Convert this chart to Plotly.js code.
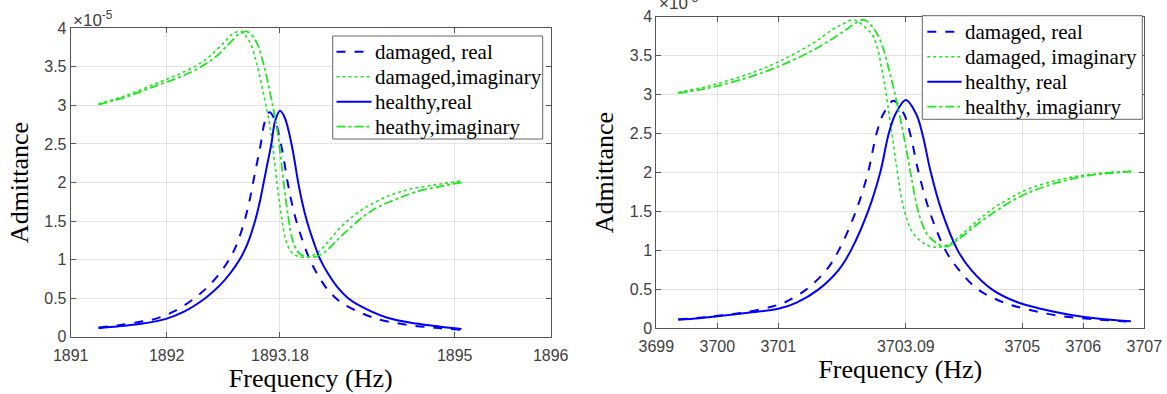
<!DOCTYPE html>
<html>
<head>
<meta charset="utf-8">
<script src="https://cdn.plot.ly/plotly-3.0.1.min.js"></script>
<style>html,body{margin:0;padding:0;background:#fff;}#chart{width:1167px;height:394px;}</style>
</head>
<body>
<div id="chart"></div>
<script>
// ---- Data (admittance values in units of 1e-5) ----
// Left panel (≈1893 Hz)
const fLeftHealthyReal = [1891.29,1891.5,1891.75,1892.0,1892.18,1892.38,1892.47,1892.56,1892.66,1892.76,1892.84,1892.92,1892.97,1893.01,1893.05,1893.09,1893.13,1893.18,1893.23,1893.30,1893.37,1893.41,1893.46,1893.53,1893.60,1893.68,1893.78,1893.89,1894.0,1894.29,1894.6,1894.85,1895.07];
const yLeftHealthyReal = [0.11,0.135,0.17,0.235,0.325,0.48,0.57,0.675,0.82,1.00,1.20,1.50,1.75,2.00,2.25,2.50,2.80,2.93,2.84,2.50,2.00,1.75,1.50,1.23,1.00,0.82,0.64,0.50,0.41,0.25,0.17,0.13,0.10];
const fLeftDamagedReal = [1891.29,1891.5,1891.75,1891.89,1892.07,1892.27,1892.36,1892.45,1892.55,1892.65,1892.73,1892.81,1892.86,1892.90,1892.94,1892.98,1893.02,1893.07,1893.12,1893.19,1893.26,1893.30,1893.35,1893.42,1893.49,1893.57,1893.67,1893.78,1893.89,1894.18,1894.5,1894.8,1895.07];
const yLeftDamagedReal = [0.12,0.15,0.20,0.235,0.325,0.48,0.57,0.675,0.82,1.00,1.20,1.50,1.75,2.00,2.25,2.50,2.78,2.91,2.83,2.50,2.00,1.75,1.50,1.23,1.00,0.81,0.62,0.48,0.39,0.235,0.155,0.115,0.09];
const fLeftHealthyImag = [1891.29,1891.6,1891.9,1892.1,1892.3,1892.5,1892.65,1892.75,1892.83,1892.90,1892.95,1893.00,1893.05,1893.10,1893.15,1893.19,1893.23,1893.27,1893.31,1893.36,1893.42,1893.50,1893.58,1893.66,1893.75,1893.9,1894.05,1894.2,1894.4,1894.6,1894.85,1895.07];
const yLeftHealthyImag = [3.01,3.12,3.26,3.35,3.46,3.62,3.80,3.92,3.96,3.89,3.78,3.58,3.32,3.02,2.70,2.30,1.88,1.52,1.26,1.11,1.05,1.03,1.05,1.11,1.22,1.40,1.56,1.68,1.79,1.88,1.95,2.00];
const fLeftDamagedImag = [1891.29,1891.6,1891.9,1892.1,1892.3,1892.45,1892.6,1892.69,1892.77,1892.83,1892.88,1892.93,1892.98,1893.03,1893.08,1893.12,1893.16,1893.20,1893.24,1893.29,1893.35,1893.43,1893.51,1893.59,1893.68,1893.82,1893.97,1894.12,1894.32,1894.52,1894.8,1895.07];
const yLeftDamagedImag = [3.02,3.14,3.29,3.39,3.51,3.64,3.82,3.93,3.96,3.89,3.78,3.58,3.32,3.02,2.70,2.30,1.88,1.52,1.26,1.11,1.05,1.03,1.05,1.11,1.23,1.43,1.59,1.71,1.83,1.91,1.97,2.02];

// Right panel (≈3703 Hz)
const fRightHealthyReal = [3699.36,3699.7,3700.0,3700.5,3701.0,3701.3,3701.66,3701.99,3702.19,3702.47,3702.67,3702.81,3702.92,3703.09,3703.26,3703.36,3703.50,3703.68,3703.94,3704.16,3704.50,3704.9,3705.3,3705.8,3706.3,3706.78];
const yRightHealthyReal = [0.11,0.13,0.155,0.20,0.25,0.33,0.50,0.75,1.00,1.50,2.00,2.50,2.75,2.93,2.75,2.50,2.00,1.50,1.00,0.75,0.50,0.34,0.25,0.17,0.12,0.09];
const fRightDamagedReal = [3699.36,3699.7,3700.0,3700.5,3700.9,3701.1,3701.46,3701.79,3701.99,3702.27,3702.47,3702.61,3702.72,3702.89,3703.06,3703.16,3703.30,3703.48,3703.74,3703.96,3704.27,3704.7,3705.1,3705.6,3706.2,3706.78];
const yRightDamagedReal = [0.115,0.135,0.16,0.21,0.28,0.33,0.50,0.75,1.00,1.50,2.00,2.50,2.75,2.92,2.75,2.50,2.00,1.50,1.00,0.75,0.50,0.33,0.24,0.16,0.115,0.085];
const fRightHealthyImag = [3699.36,3699.7,3700.0,3700.5,3701.0,3701.57,3702.07,3702.25,3702.41,3702.55,3702.67,3702.83,3702.97,3703.08,3703.19,3703.30,3703.43,3703.60,3703.76,3703.98,3704.25,3704.52,3704.8,3705.07,3705.62,3706.16,3706.78];
const yRightHealthyImag = [3.02,3.06,3.11,3.22,3.36,3.57,3.81,3.91,3.96,3.86,3.70,3.27,2.80,2.37,1.90,1.48,1.22,1.09,1.05,1.16,1.33,1.48,1.62,1.73,1.88,1.97,2.01];
const fRightDamagedImag = [3699.36,3699.7,3700.0,3700.5,3701.0,3701.57,3701.9,3702.07,3702.23,3702.40,3702.56,3702.72,3702.83,3702.94,3703.05,3703.21,3703.43,3703.62,3703.82,3704.0,3704.25,3704.52,3704.8,3705.07,3705.62,3706.16,3706.78];
const yRightDamagedImag = [3.03,3.08,3.14,3.26,3.42,3.66,3.84,3.91,3.96,3.88,3.74,3.23,2.67,2.07,1.56,1.22,1.07,1.04,1.09,1.20,1.37,1.54,1.67,1.78,1.91,1.98,2.02];

// Tick labels
const leftXTicks = [1891, 1892, 1893.18, 1895, 1896];
const leftXTickText = ['1891', '1892', '1893.18', '1895', '1896'];
const rightXTicks = [3699, 3700, 3701, 3703.09, 3705, 3706, 3707];
const rightXTickText = ['3699', '3700', '3701', '3703.09', '3705', '3706', '3707'];
const yTicks = [0, 0.5, 1, 1.5, 2, 2.5, 3, 3.5, 4];
const yTickText = ['0', '0.5', '1', '1.5', '2', '2.5', '3', '3.5', '4'];

const leftNames = ['damaged, real', 'damaged,imaginary', 'healthy,real', 'heathy,imaginary'];
const rightNames = ['damaged, real', 'damaged, imaginary', 'healthy, real', 'healthy, imagianry'];

// ---- Styles ----
const W = 1167, H = 394;
const BLUE = '#0000ff', GREEN = '#1ee81e';
const SERIF = 'Liberation Serif';
const SANS = 'Liberation Sans';
const styles = [
  {color: BLUE, width: 2, dash: 'dash'},
  {color: GREEN, width: 1.6, dash: 'dot'},
  {color: BLUE, width: 2, dash: 'solid'},
  {color: GREEN, width: 1.8, dash: 'dashdot'}
];

function tr(x, y, name, i, xa, ya) {
  return {x: x, y: y, name: name, type: 'scatter', mode: 'lines', showlegend: false,
    line: Object.assign({shape: 'spline', smoothing: 1.0}, styles[i]),
    xaxis: xa, yaxis: ya};
}

const data = [
  tr(fLeftDamagedReal, yLeftDamagedReal, leftNames[0], 0, 'x', 'y'),
  tr(fLeftDamagedImag, yLeftDamagedImag, leftNames[1], 1, 'x', 'y'),
  tr(fLeftHealthyReal, yLeftHealthyReal, leftNames[2], 2, 'x', 'y'),
  tr(fLeftHealthyImag, yLeftHealthyImag, leftNames[3], 3, 'x', 'y'),
  tr(fRightDamagedReal, yRightDamagedReal, rightNames[0], 0, 'x2', 'y2'),
  tr(fRightDamagedImag, yRightDamagedImag, rightNames[1], 1, 'x2', 'y2'),
  tr(fRightHealthyReal, yRightHealthyReal, rightNames[2], 2, 'x2', 'y2'),
  tr(fRightHealthyImag, yRightHealthyImag, rightNames[3], 3, 'x2', 'y2')
];

function axisCommon() {
  return {
    showline: true, mirror: 'ticks', linecolor: '#555', linewidth: 1,
    ticks: 'inside', ticklen: 5, tickcolor: '#555', tickwidth: 1,
    showgrid: true, gridcolor: '#e4e4e4', gridwidth: 1, zeroline: false,
    tickfont: {family: SANS, size: 16, color: '#404040'}
  };
}

// ---- Boxed legends (MATLAB style), built from the names and styles ----
const px = v => v / W, py = v => 1 - v / H;
const legendBoxes = [
  {names: leftNames, box: [332.7, 36, 542.7, 139], sample: [336.5, 371.5], textX: 373, rowTop: 51.7, rowGap: 25},
  {names: rightNames, box: [922.3, 15.7, 1142.3, 119.3], sample: [927.3, 961.7], textX: 963, rowTop: 31.7, rowGap: 25}
];
const shapes = [], annotations = [];
legendBoxes.forEach(L => {
  shapes.push({type: 'rect', xref: 'paper', yref: 'paper', layer: 'above',
    x0: px(L.box[0]), x1: px(L.box[2]), y0: py(L.box[3]), y1: py(L.box[1]),
    line: {color: '#666', width: 1}, fillcolor: '#fff'});
  L.names.forEach((n, i) => {
    const yy = py(L.rowTop + i * L.rowGap);
    shapes.push({type: 'line', xref: 'paper', yref: 'paper', layer: 'above',
      x0: px(L.sample[0]), x1: px(L.sample[1]), y0: yy, y1: yy,
      line: {color: styles[i].color, width: styles[i].width, dash: styles[i].dash}});
    annotations.push({text: n, xref: 'paper', yref: 'paper', x: px(L.textX), y: yy,
      xanchor: 'left', yanchor: 'middle', showarrow: false,
      font: {family: SERIF, size: 21, color: '#000'}});
  });
});
annotations.push(
  {text: '×10<sup>-5</sup>', xref: 'paper', yref: 'paper', x: 0.0612, y: 0.952,
   xanchor: 'left', yanchor: 'middle', showarrow: false,
   font: {family: SANS, size: 17, color: '#404040'}},
  {text: '×10<sup>-5</sup>', xref: 'paper', yref: 'paper', x: 0.5626, y: 0.995,
   xanchor: 'left', yanchor: 'middle', showarrow: false,
   font: {family: SANS, size: 17, color: '#404040'}}
);

const layout = {
  width: W, height: H,
  margin: {l: 0, r: 0, t: 0, b: 0},
  paper_bgcolor: '#fff', plot_bgcolor: '#fff',
  font: {family: SERIF, size: 20, color: '#111'},
  showlegend: false,
  xaxis: Object.assign(axisCommon(), {
    domain: [0.0606, 0.4719], range: [1891, 1896], tickmode: 'array',
    tickvals: leftXTicks, ticktext: leftXTickText, anchor: 'y', ticklabelstandoff: 4,
    title: {text: 'Frequency (Hz)', font: {family: SERIF, size: 26, color: '#000'}, standoff: 4}
  }),
  yaxis: Object.assign(axisCommon(), {
    domain: [0.1454, 0.9282], range: [0, 4], tickmode: 'array',
    tickvals: yTicks, ticktext: yTickText, anchor: 'x',
    title: {text: 'Admittance', font: {family: SERIF, size: 26, color: '#000'}, standoff: 8}
  }),
  xaxis2: Object.assign(axisCommon(), {
    domain: [0.5624, 0.9806], range: [3699, 3707], tickmode: 'array',
    tickvals: rightXTicks, ticktext: rightXTickText, anchor: 'y2', ticklabelstandoff: 4,
    title: {text: 'Frequency (Hz)', font: {family: SERIF, size: 26, color: '#000'}, standoff: 4}
  }),
  yaxis2: Object.assign(axisCommon(), {
    domain: [0.1668, 0.9576], range: [0, 4], tickmode: 'array',
    tickvals: yTicks, ticktext: yTickText, anchor: 'x2',
    title: {text: 'Admittance', font: {family: SERIF, size: 26, color: '#000'}, standoff: 8}
  }),
  shapes: shapes,
  annotations: annotations
};

Plotly.newPlot('chart', data, layout, {displayModeBar: false, staticPlot: true});
</script>
</body>
</html>
